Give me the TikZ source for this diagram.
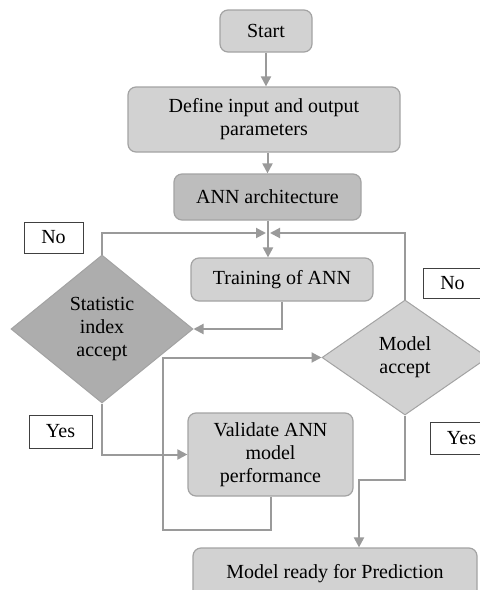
\documentclass[tikz,border=0pt]{standalone}
\usepackage{fontspec}
\setmainfont{Liberation Serif}
\usetikzlibrary{shapes.geometric,arrows.meta}
\definecolor{boxgray}{HTML}{D2D2D2}
\definecolor{darkbox}{HTML}{BDBDBD}
\definecolor{diagray}{HTML}{ADADAD}
\definecolor{edgegray}{HTML}{A3A3A3}
\definecolor{flowgray}{HTML}{9A9A9A}
\begin{document}
\begin{tikzpicture}[x=1pt,y=-1pt]
    \tikzset{font={\fontsize{20pt}{23pt}\selectfont},
      box/.style={draw=edgegray,line width=1.2pt,fill=boxgray,rounded corners=8pt,align=center,inner sep=0pt},
      decision/.style={diamond,draw=edgegray,line width=1pt,align=center,inner sep=0pt},
      tag/.style={draw=black!75,line width=1pt,fill=white,inner sep=0pt},
      line/.style={draw=flowgray,line width=2pt},
      flow/.style={line,-{Triangle[length=10pt,width=10pt]}}}
    \useasboundingbox (0,0) rectangle (480,590);
    % boxes
    \node[box,minimum width=92pt,minimum height=42pt] (start) at (266,31) {Start};
    \node[box,minimum width=272pt,minimum height=65pt] (define) at (264,119.5) {Define input and output\\parameters};
    \node[box,fill=darkbox,minimum width=187pt,minimum height=46pt] (ann) at (267.5,197) {ANN architecture};
    \node[box,minimum width=182pt,minimum height=43pt] (train) at (282,279.5) {Training of ANN};
    \node[box,minimum width=165pt,minimum height=83pt] (valid) at (270.5,454.5) {Validate ANN\\model\\performance};
    \node[box,minimum width=284pt,minimum height=52pt] (ready) at (335,574) {Model ready for Prediction};
    % decisions
    \node[decision,fill=diagray,minimum width=182pt,minimum height=148pt] (stat) at (102,329) {Statistic\\index\\accept};
    \node[decision,fill=boxgray,minimum width=166pt,minimum height=115pt] (model) at (405,357.5) {Model\\accept};
    % labels
    \node[tag,minimum width=59pt,minimum height=31pt] (no1) at (53.5,237.5) {No};
    \node[tag,minimum width=59pt,minimum height=30pt] (no2) at (452.5,283) {No};
    \node[tag,minimum width=63pt,minimum height=33pt] (yes1) at (60.5,431.5) {Yes};
    \node[tag,minimum width=63pt,minimum height=32pt] (yes2) at (461.5,438) {Yes};
    % connectors
    \coordinate (join) at (268,233);
    \coordinate (back) at (163,530);
    \coordinate (turn) at (359,480);
    \draw[flow] (start.south) -- (start.south |- define.north);
    \draw[flow] (ann.north |- define.south) -- (ann.north);
    \draw[line] (ann.south -| join) -- (join);
    \draw[flow] (join) -- (join |- train.north);
    \draw[flow] (stat.north) |- ([xshift=-2pt]join);
    \draw[flow] (model.north) |- ([xshift=2pt]join);
    \draw[flow] (train.south) |- (stat.east);
    \draw[flow] (stat.south) |- (valid.west);
    \draw[flow] (valid.south) |- (back) |- (model.west);
    \draw[flow] (model.south) |- (turn) -- (turn |- ready.north);
\end{tikzpicture}
\end{document}
